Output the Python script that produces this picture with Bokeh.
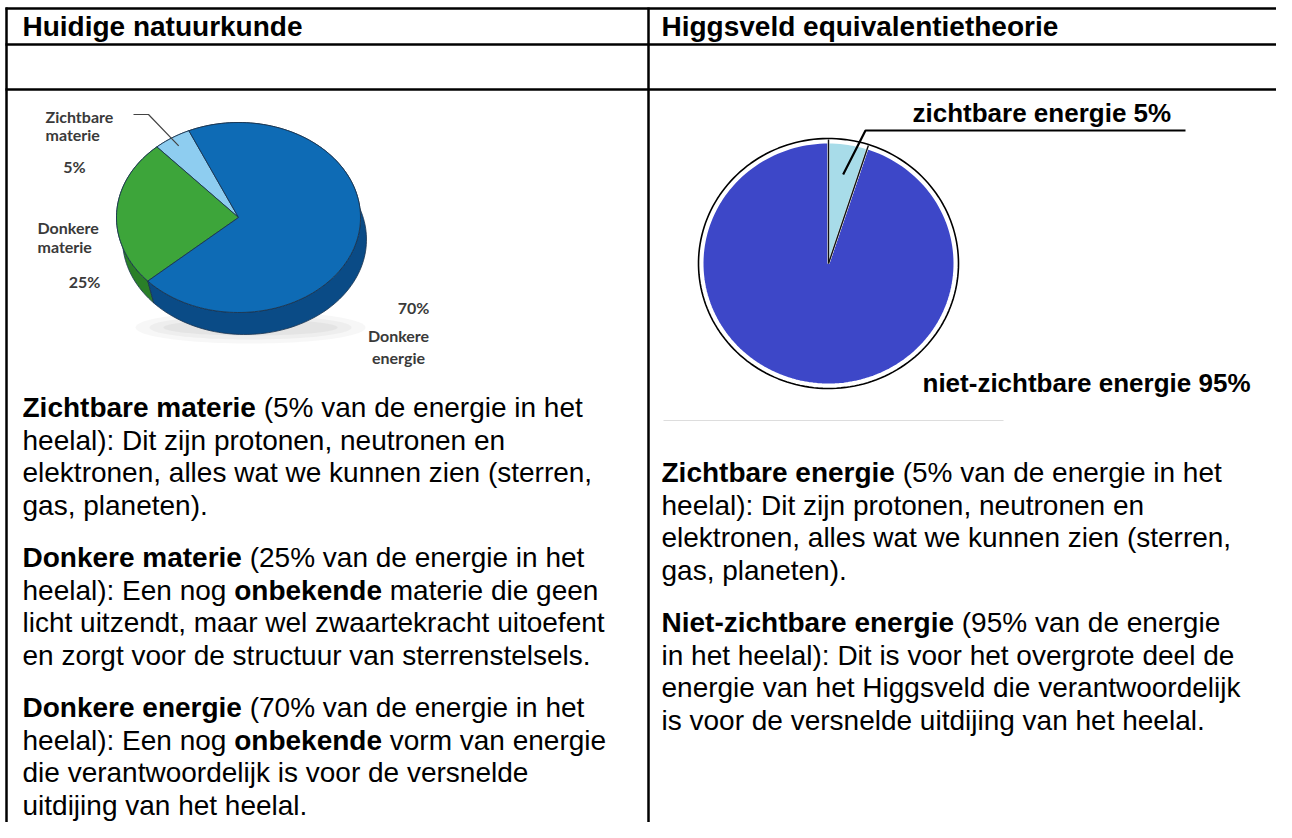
import numpy as np
from bokeh.plotting import figure
from bokeh.models import Range1d, ColumnDataSource
from bokeh.embed import file_html
from bokeh.resources import INLINE
from bokeh.core.properties import value

# ---------------- data ----------------
headers = ["Huidige natuurkunde", "Higgsveld equivalentietheorie"]

left_names = ["Zichtbare materie", "Donkere materie", "Donkere energie"]
left_values = [5, 25, 70]
left_top_colors = ["#8ECDF0", "#3DA53A", "#0E6BB5"]
left_side_colors = ["#5F9EC6", "#2A7F28", "#0A4B86"]

right_names = ["zichtbare energie", "niet-zichtbare energie"]
right_values = [5, 95]
right_colors = ["#A8DCE9", "#3D47C8"]

left_text = [
    [[("Zichtbare materie", True), (" (5% van de energie in het", False)],
     [("heelal): Dit zijn protonen, neutronen en", False)],
     [("elektronen, alles wat we kunnen zien (sterren,", False)],
     [("gas, planeten).", False)]],
    [[("Donkere materie", True), (" (25% van de energie in het", False)],
     [("heelal): Een nog ", False), ("onbekende", True), (" materie die geen", False)],
     [("licht uitzendt, maar wel zwaartekracht uitoefent", False)],
     [("en zorgt voor de structuur van sterrenstelsels.", False)]],
    [[("Donkere energie", True), (" (70% van de energie in het", False)],
     [("heelal): Een nog ", False), ("onbekende", True), (" vorm van energie", False)],
     [("die verantwoordelijk is voor de versnelde", False)],
     [("uitdijing van het heelal.", False)]],
]
right_text = [
    [[("Zichtbare energie", True), (" (5% van de energie in het", False)],
     [("heelal): Dit zijn protonen, neutronen en", False)],
     [("elektronen, alles wat we kunnen zien (sterren,", False)],
     [("gas, planeten).", False)]],
    [[("Niet-zichtbare energie", True), (" (95% van de energie", False)],
     [("in het heelal): Dit is voor het overgrote deel de", False)],
     [("energie van het Higgsveld die verantwoordelijk", False)],
     [("is voor de versnelde uitdijing van het heelal.", False)]],
]

# ---------------- font metrics (Arial / Liberation Sans) ----------------
low = "abcdefghijklmnopqrstuvwxyz"
up = "ABCDEFGHIJKLMNOPQRSTUVWXYZ"
REG = dict(zip(low, [556,556,500,556,556,278,556,556,222,222,500,222,833,556,556,556,556,333,500,278,556,500,722,500,500,500]))
REG.update(zip(up, [667,667,722,722,667,611,778,722,278,500,667,556,833,722,778,667,778,722,667,611,722,667,944,667,667,611]))
REG.update({" ": 278, "(": 333, ")": 333, "%": 889, ",": 278, ".": 278, ":": 278, "-": 333})
BLD = dict(zip(low, [556,611,556,611,556,333,611,611,278,278,556,278,889,611,611,611,611,389,556,333,611,556,778,556,556,500]))
BLD.update(zip(up, [722,722,722,722,667,611,778,722,278,556,722,611,833,722,778,667,778,722,667,611,722,667,944,667,667,611]))
BLD.update({" ": 278, "(": 333, ")": 333, "%": 889, ",": 278, ".": 278, ":": 333, "-": 333})
for d in "0123456789":
    REG[d] = 556
    BLD[d] = 556


def tw(s, bold, fs):
    t = BLD if bold else REG
    return sum(t.get(c, 556) for c in s) / 1000.0 * fs


# ---------------- figure (data units = picture pixels) ----------------
W, H = 1276, 822
p = figure(width=W, height=H, x_range=Range1d(0, W), y_range=Range1d(H, 0),
           output_backend="svg", toolbar_location=None,
           x_axis_location=None, y_axis_location=None, min_border=0)
p.outline_line_color = None
p.grid.grid_line_color = None
p.background_fill_color = "white"
p.border_fill_color = "white"

FONT = value("Liberation Sans")
FS = 28

# table lines
p.segment(x0=[5, 5, 5], y0=[8, 44, 89], x1=[W] * 3, y1=[8, 44, 89], line_color="black", line_width=2.5)
p.segment(x0=[6, 648], y0=[7, 7], x1=[6, 648], y1=[H] * 2, line_color="black", line_width=2.5)

# headers
p.text(x=[22, 661], y=[26, 26], text=headers, text_font=FONT, text_font_size=f"{FS}px",
       text_font_style="bold", text_color="black", text_baseline="middle")


def arc(cx, cy, rx, ry, a0, a1, n=None):
    if n is None:
        n = max(4, int(abs(a1 - a0) / 2) + 2)
    th = np.radians(np.linspace(a0, a1, n))
    return cx + rx * np.cos(th), cy - ry * np.sin(th)


# ---------------- left 3D pie ----------------
cx, cy, rx, ry = 238, 217, 122, 95
ox, oy = 6, 22
start = 114.0
vals = np.array(left_values, dtype=float)
edges = start + 360.0 * np.concatenate([[0], np.cumsum(vals)]) / vals.sum()

# soft shadow
for k, a in enumerate([0.12, 0.15, 0.2]):
    sx, sy = arc(cx + 12, cy + 110, 115 - 14 * k, 16 - 4 * k, 0, 360, 120)
    p.patch(sx, sy, fill_color="#bdbdbd", fill_alpha=a, line_color=None)

# sides
sxs, sys_ = [], []
for i in range(len(vals)):
    ax, ay = arc(cx, cy, rx, ry, edges[i], edges[i + 1])
    xs = list(ax) + list((ax + ox)[::-1])
    ys = list(ay) + list((ay + oy)[::-1])
    sxs.append(xs)
    sys_.append(ys)
p.patches(sxs, sys_, fill_color=left_side_colors, line_color="#1c3550", line_width=0.8)

# tops
txs, tys = [], []
for i in range(len(vals)):
    ax, ay = arc(cx, cy, rx, ry, edges[i], edges[i + 1])
    txs.append([cx] + list(ax))
    tys.append([cy] + list(ay))
p.patches(txs, tys, fill_color=left_top_colors, line_color="#1c3550", line_width=0.9)

# left pie labels
LFONT = value("Lato")
lab_src = ColumnDataSource(dict(
    x=[45, 45, 74, 37, 37, 84, 413, 398, 398],
    y=[116, 134, 166, 227, 246, 281, 307, 335, 357],
    text=["Zichtbare", "materie", f"{left_values[0]}%", "Donkere", "materie", f"{left_values[1]}%",
          f"{left_values[2]}%", "Donkere", "energie"],
    align=["left", "left", "center", "left", "left", "center", "center", "center", "center"],
))
p.text(x="x", y="y", text="text", text_align="align", source=lab_src, text_font=LFONT,
       text_font_size="16px", text_font_style="bold", text_color="#3a3a3a", text_baseline="middle")

# leader line left (to the visible-matter slice)
mid = np.radians((edges[0] + edges[1]) / 2)
ex, ey = cx + 0.9 * rx * np.cos(mid), cy - 0.9 * ry * np.sin(mid)
p.line([133, 148, ex], [114, 114, ey], line_color="#444444", line_width=1.2)

# ---------------- right flat pie ----------------
cx2, cy2, rx2, ry2 = 828, 263, 130, 125
bx, by = arc(cx2, cy2, rx2, ry2, 0, 360, 180)
p.patch(bx, by, fill_color="white", line_color="black", line_width=1.6)

rv = np.array(right_values, dtype=float)
redges = 90.0 - 360.0 * np.concatenate([[0], np.cumsum(rv)]) / rv.sum()
rxs, rys = [], []
for i in range(len(rv)):
    ax, ay = arc(cx2, cy2, rx2 - 4, ry2 - 4, redges[i], redges[i + 1])
    rxs.append([cx2] + list(ax))
    rys.append([cy2] + list(ay))
p.patches(rxs[::-1], rys[::-1], fill_color=right_colors[::-1], line_color="white", line_width=2)

# radial boundaries of the small slice
for a in redges[:2]:
    ar = np.radians(a)
    p.line([cx2, cx2 + (rx2 - 1) * np.cos(ar)], [cy2, cy2 - (ry2 - 1) * np.sin(ar)],
           line_color="#111111", line_width=1.4)

# leader line right
rmid = np.radians((redges[0] + redges[1]) / 2)
rex, rey = cx2 + 0.72 * rx2 * np.cos(rmid), cy2 - 0.72 * ry2 * np.sin(rmid)
p.line([rex, 865, 1185], [rey, 130, 130], line_color="black", line_width=2.2)

RFS = 26
p.text(x=[912, 922], y=[112, 382],
       text=[f"{right_names[0]} {right_values[0]}%", f"{right_names[1]} {right_values[1]}%"],
       text_font=FONT, text_font_size=f"{RFS}px", text_font_style="bold", text_color="black",
       text_baseline="middle")

# faint line under the right picture
p.line([663, 1003], [420, 420], line_color="#dddddd", line_width=1)


# ---------------- body text ----------------
def place(paragraphs, x0, y_first, step, gap):
    rx_, ry_, rt, bx_, by_, bt = [], [], [], [], [], []
    y = y_first
    for para in paragraphs:
        for line in para:
            x = x0
            for s, b in line:
                lead = len(s) - len(s.lstrip(" "))
                x += tw(" " * lead, b, FS)
                core = s.strip(" ")
                if b:
                    bx_.append(x); by_.append(y); bt.append(core)
                else:
                    rx_.append(x); ry_.append(y); rt.append(core)
                x += tw(s.lstrip(" "), b, FS)
            y += step
        y += gap
    return (rx_, ry_, rt), (bx_, by_, bt)


STEP, GAP = 32.5, 20
for paras, x0, y0 in [(left_text, 22, 407), (right_text, 661, 407 + 2 * STEP)]:
    (a, b, c), (d, e, f) = place(paras, x0, y0, STEP, GAP)
    p.text(x=a, y=b, text=c, text_font=FONT, text_font_size=f"{FS}px", text_color="black",
           text_baseline="middle")
    p.text(x=d, y=e, text=f, text_font=FONT, text_font_size=f"{FS}px", text_font_style="bold",
           text_color="black", text_baseline="middle")

open("out.html", "w").write(file_html(p, INLINE))
